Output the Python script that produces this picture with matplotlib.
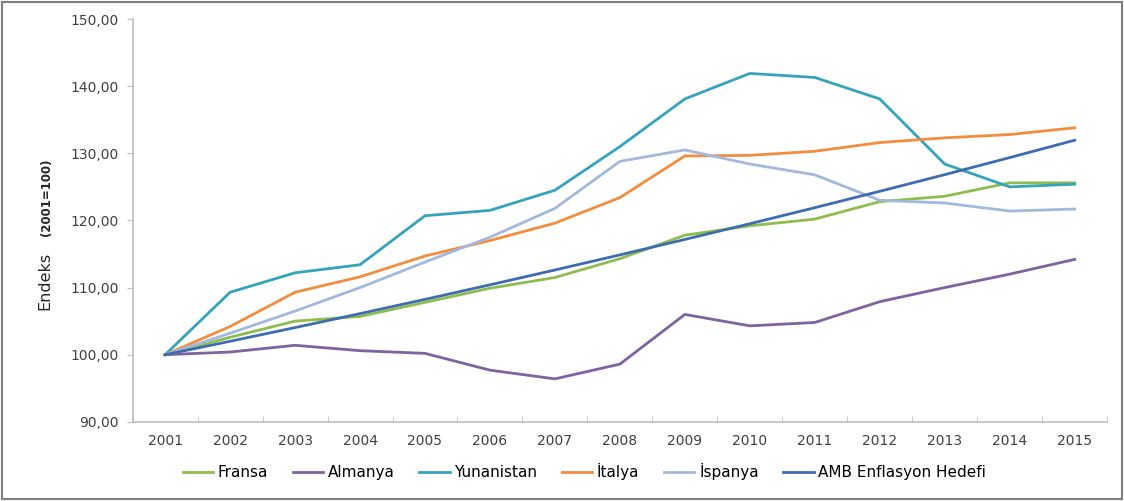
import numpy as np
import matplotlib
matplotlib.use('Agg')
import matplotlib.pyplot as plt
from matplotlib.patches import Rectangle
from matplotlib.ticker import FuncFormatter, FixedLocator

years = list(range(2001, 2016))

fransa     = [100.0, 102.6, 105.0, 105.7, 107.8, 109.9, 111.5, 114.3, 117.8, 119.2, 120.2, 122.8, 123.6, 125.6, 125.6]
almanya    = [100.0, 100.4, 101.4, 100.6, 100.2, 97.7, 96.4, 98.6, 106.0, 104.3, 104.8, 107.9, 110.0, 112.0, 114.2]
yunanistan = [100.0, 109.3, 112.2, 113.4, 120.7, 121.5, 124.5, 131.0, 138.1, 141.9, 141.3, 138.1, 128.4, 125.0, 125.4]
italya     = [100.0, 104.2, 109.3, 111.6, 114.7, 117.0, 119.6, 123.4, 129.6, 129.7, 130.3, 131.6, 132.3, 132.8, 133.8]
ispanya    = [100.0, 103.2, 106.5, 110.0, 113.8, 117.5, 121.8, 128.8, 130.5, 128.4, 126.8, 123.0, 122.6, 121.4, 121.7]
amb_hedef  = [100.0, 102.0, 104.04, 106.12, 108.24, 110.41, 112.62, 114.87, 117.17, 119.51, 121.9, 124.34, 126.82, 129.36, 131.95]

series = [
    ('Fransa', fransa, '#8FBC4E'),
    ('Almanya', almanya, '#7F62A0'),
    ('Yunanistan', yunanistan, '#35A3BC'),
    ('İtalya', italya, '#F28C3E'),
    ('İspanya', ispanya, '#A2B8DC'),
    ('AMB Enflasyon Hedefi', amb_hedef, '#3D6DB0'),
]

fig = plt.figure(figsize=(11.24, 5.01), dpi=100)
ax = fig.add_axes([0.118, 0.158, 0.867, 0.804])

for name, vals, col in series:
    ax.plot(years, vals, color=col, lw=2.0, label=name, solid_joinstyle='miter')

ax.set_xlim(2000.5, 2015.5)
ax.set_ylim(90, 150)
ax.set_yticks(np.arange(90, 151, 10))
ax.yaxis.set_major_formatter(FuncFormatter(lambda v, p: f'{v:.2f}'.replace('.', ',')))
ax.set_xticks(years)
ax.xaxis.set_minor_locator(FixedLocator(np.arange(2000.5, 2016, 1)))
ax.tick_params(axis='x', which='major', length=0, pad=9, labelsize=10, labelcolor='#404040')
ax.tick_params(axis='x', which='minor', length=4, color='#BFBFBF', direction='in')
ax.tick_params(axis='y', length=4, color='#BFBFBF', direction='out', pad=6, labelsize=10, labelcolor='#404040')

for s in ['top', 'right']:
    ax.spines[s].set_visible(False)
for s in ['left', 'bottom']:
    ax.spines[s].set_color('#BFBFBF')
    ax.spines[s].set_linewidth(1.2)

fig.text(0.040, 0.44, 'Endeks', rotation=90, ha='center', va='center', fontsize=11.5, color='#262626')
fig.text(0.041, 0.607, '(2001=100)', rotation=90, ha='center', va='center', fontsize=8.5,
         fontweight='bold', color='#262626')

fig.legend(loc='center', bbox_to_anchor=(0.52, 0.058), ncol=6, frameon=False, fontsize=11,
           handlelength=2.0, handletextpad=0.3, columnspacing=1.6)

fig.patches.append(Rectangle((0.002, 0.004), 0.996, 0.992, transform=fig.transFigure,
                             fill=False, edgecolor='#7F7F7F', lw=1.5))

fig.savefig('out.png', dpi=100)
